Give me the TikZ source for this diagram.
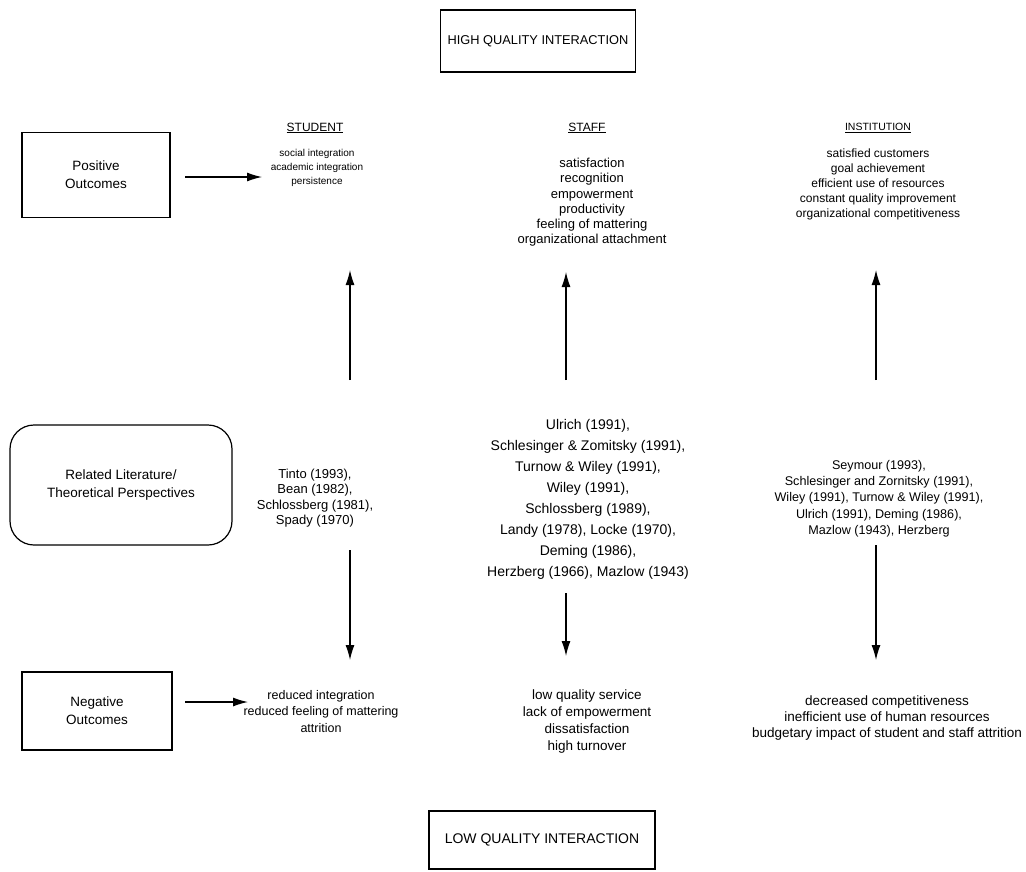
\documentclass[tikz,border=0pt]{standalone}
\usepackage{fontspec}
\setmainfont{Liberation Sans}
\usetikzlibrary{arrows.meta}
\begin{document}
\begin{tikzpicture}[x=1pt,y=-1pt,
  txt/.style={inner sep=0pt,align=center,anchor=north},
  bigtxt/.style={inner sep=0pt,align=center,font=\fontsize{13.5}{18}\selectfont},
  head/.style={inner sep=0pt,font=\fontsize{12}{14}\selectfont},
  box/.style={draw,line width=1.2pt,inner sep=0pt},
  conn/.style={line width=1.2pt,-{Latex[length=15pt,width=9pt]}}]
\useasboundingbox (0,0) rectangle (1026,871);
% title boxes
\node[box,minimum width=195pt,minimum height=62pt,font=\fontsize{12.8}{16}\selectfont] (high) at (538,41) {HIGH QUALITY INTERACTION};
\node[box,minimum width=226pt,minimum height=58pt,font=\fontsize{14}{16}\selectfont] (low) at (542,840) {LOW QUALITY INTERACTION};
% row labels
\node[box,minimum width=148pt,minimum height=85pt,bigtxt] (pos) at (96,175) {Positive\\Outcomes};
\node[box,rounded corners=24pt,minimum width=222pt,minimum height=120pt,bigtxt] (lit) at (121,485) {Related Literature/\\Theoretical Perspectives};
\node[box,minimum width=150pt,minimum height=78pt,bigtxt] (neg) at (97,711) {Negative\\Outcomes};
% headings
\node[head] (hstu) at (315,128) {\underline{STUDENT}};
\node[head] (hsta) at (587,128) {\underline{STAFF}};
\node[head,font=\fontsize{10.5}{14}\selectfont] (hins) at (878,128) {\underline{INSTITUTION}};
% positive outcomes
\node[txt,font=\fontsize{10}{14}\selectfont] (pstu) at (317,149) {social integration\\academic integration\\persistence};
\node[txt,font=\fontsize{13}{15.2}\selectfont] (psta) at (592,158) {satisfaction\\recognition\\empowerment\\productivity\\feeling of mattering\\organizational attachment};
\node[txt,font=\fontsize{12}{14.8}\selectfont] (pins) at (878,149) {satisfied customers\\goal achievement\\efficient use of resources\\constant quality improvement\\organizational competitiveness};
% literature
\node[txt,font=\fontsize{13}{15.3}\selectfont] (lstu) at (315,469) {Tinto (1993),\\Bean (1982),\\Schlossberg (1981),\\Spady (1970)};
\node[txt,font=\fontsize{14}{21}\selectfont] (lsta) at (588,419) {Ulrich (1991),\\Schlesinger \& Zomitsky (1991),\\Turnow \& Wiley (1991),\\Wiley (1991),\\Schlossberg (1989),\\Landy (1978), Locke (1970),\\Deming (1986),\\Herzberg (1966), Mazlow (1943)};
\node[txt,font=\fontsize{12.6}{16.25}\selectfont] (lins) at (879,460) {Seymour (1993),\\Schlesinger and Zornitsky (1991),\\Wiley (1991), Turnow \& Wiley (1991),\\Ulrich (1991), Deming (1986),\\Mazlow (1943), Herzberg};
% negative outcomes
\node[txt,font=\fontsize{12.5}{16.5}\selectfont] (nstu) at (321,690) {reduced integration\\reduced feeling of mattering\\attrition};
\node[txt,font=\fontsize{13.5}{17}\selectfont] (nsta) at (587,690) {low quality service\\lack of empowerment\\dissatisfaction\\high turnover};
\node[txt,font=\fontsize{13.5}{16}\selectfont] (nins) at (887,696) {decreased competitiveness\\inefficient use of human resources\\budgetary impact of student and staff attrition};
% connector end points
\coordinate (pa1) at (185,177); \coordinate (pa2) at (262,177);
\coordinate (na1) at (185,702); \coordinate (na2) at (248,702);
\coordinate (su1) at (350,380); \coordinate (su2) at (350,270);
\coordinate (tu1) at (566,380); \coordinate (tu2) at (566,272);
\coordinate (iu1) at (876,380); \coordinate (iu2) at (876,270);
\coordinate (sd1) at (350,550); \coordinate (sd2) at (350,660);
\coordinate (td1) at (566,593); \coordinate (td2) at (566,656);
\coordinate (id1) at (876,545); \coordinate (id2) at (876,660);
% connectors
\draw[conn] (pa1) -- (pa2);
\draw[conn] (na1) -- (na2);
\draw[conn] (su1) -- (su2);
\draw[conn] (tu1) -- (tu2);
\draw[conn] (iu1) -- (iu2);
\draw[conn] (sd1) -- (sd2);
\draw[conn] (td1) -- (td2);
\draw[conn] (id1) -- (id2);
\end{tikzpicture}
\end{document}
